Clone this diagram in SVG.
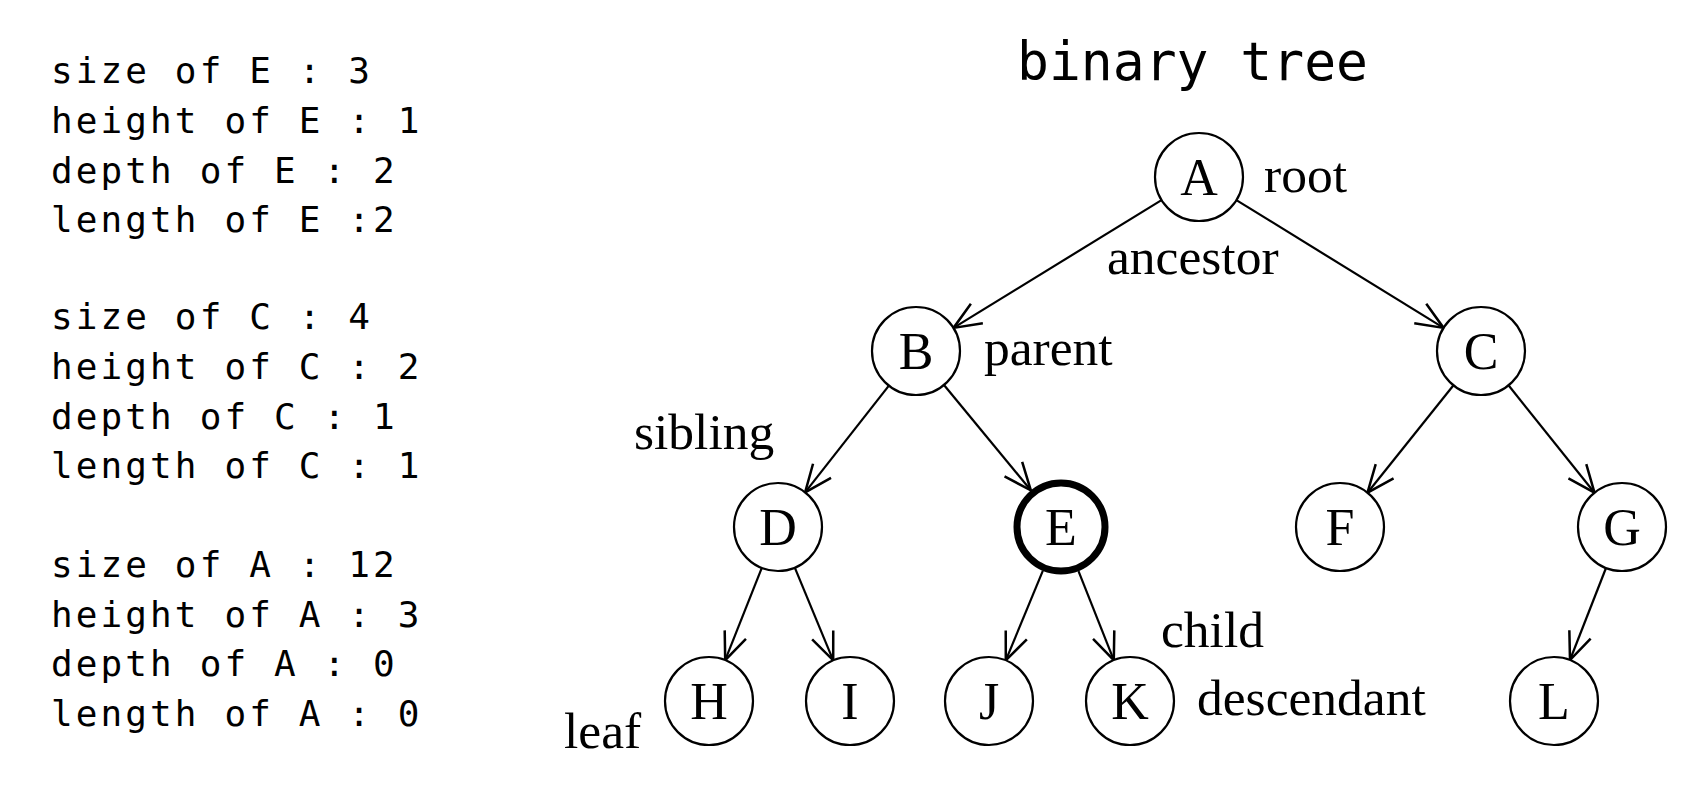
<svg xmlns="http://www.w3.org/2000/svg" width="1702" height="790" viewBox="0 0 1702 790">
<style>
.info{font-family:"DejaVu Sans Mono","Liberation Mono",monospace;font-size:36px;letter-spacing:3.1px;fill:#000}
.title{font-family:"DejaVu Sans Mono","Liberation Mono",monospace;font-size:53px;fill:#000}
.lbl{font-family:"Liberation Serif","Times New Roman",serif;font-size:51.5px;fill:#000}
.nl{font-family:"Liberation Serif","Times New Roman",serif;font-size:52px;fill:#000;text-anchor:middle}
.node{fill:#fff;stroke:#000;stroke-width:2.2}
.bold{stroke-width:7}
.edge{stroke:#000;stroke-width:2.2;fill:none;marker-end:url(#arr)}
</style>
<defs>
<marker id="arr" markerUnits="userSpaceOnUse" markerWidth="40" markerHeight="40" viewBox="-30 -15 35 30" refX="0" refY="0" orient="auto">
<path d="M -24 -10 L 0 0 L -24 10" fill="none" stroke="#000" stroke-width="2.2"/>
</marker>
</defs>
<rect width="1702" height="790" fill="#fff"/>
<g id="info">
<text class="info" x="51" y="83">size of E : 3</text>
<text class="info" x="51" y="133">height of E : 1</text>
<text class="info" x="51" y="183">depth of E : 2</text>
<text class="info" x="51" y="232">length of E :2</text>
<text class="info" x="51" y="329">size of C : 4</text>
<text class="info" x="51" y="379">height of C : 2</text>
<text class="info" x="51" y="429">depth of C : 1</text>
<text class="info" x="51" y="478">length of C : 1</text>
<text class="info" x="51" y="577">size of A : 12</text>
<text class="info" x="51" y="627">height of A : 3</text>
<text class="info" x="51" y="676">depth of A : 0</text>
<text class="info" x="51" y="726">length of A : 0</text>
</g>
<text id="title" class="title" x="1017" y="80">binary tree</text>
<g id="edges">
<line class="edge" x1="1161.5" y1="200.1" x2="953.5" y2="327.9"/>
<line class="edge" x1="1236.4" y1="200.1" x2="1443.6" y2="327.9"/>
<line class="edge" x1="888.9" y1="385.6" x2="805.1" y2="492.4"/>
<line class="edge" x1="944" y1="385" x2="1030.8" y2="490.3"/>
<line class="edge" x1="1453.5" y1="385.3" x2="1367.5" y2="492.7"/>
<line class="edge" x1="1508.5" y1="385.3" x2="1594.5" y2="492.7"/>
<line class="edge" x1="761.8" y1="567.9" x2="725.2" y2="660.1"/>
<line class="edge" x1="794.8" y1="567.7" x2="833.2" y2="660.3"/>
<line class="edge" x1="1042.8" y1="570.9" x2="1005.8" y2="660.3"/>
<line class="edge" x1="1078.5" y1="571.2" x2="1113.8" y2="660.1"/>
<line class="edge" x1="1606" y1="568" x2="1570" y2="660"/>
</g>
<g id="node-A"><circle class="node" cx="1199" cy="177" r="44"/><text class="nl" x="1199" y="195">A</text></g>
<g id="node-B"><circle class="node" cx="916" cy="351" r="44"/><text class="nl" x="916" y="369">B</text></g>
<g id="node-C"><circle class="node" cx="1481" cy="351" r="44"/><text class="nl" x="1481" y="369">C</text></g>
<g id="node-D"><circle class="node" cx="778" cy="527" r="44"/><text class="nl" x="778" y="545">D</text></g>
<g id="node-E"><circle class="node bold" cx="1061" cy="527" r="44"/><text class="nl" x="1061" y="545">E</text></g>
<g id="node-F"><circle class="node" cx="1340" cy="527" r="44"/><text class="nl" x="1340" y="545">F</text></g>
<g id="node-G"><circle class="node" cx="1622" cy="527" r="44"/><text class="nl" x="1622" y="545">G</text></g>
<g id="node-H"><circle class="node" cx="709" cy="701" r="44"/><text class="nl" x="709" y="719">H</text></g>
<g id="node-I"><circle class="node" cx="850" cy="701" r="44"/><text class="nl" x="850" y="719">I</text></g>
<g id="node-J"><circle class="node" cx="989" cy="701" r="44"/><text class="nl" x="989" y="719">J</text></g>
<g id="node-K"><circle class="node" cx="1130" cy="701" r="44"/><text class="nl" x="1130" y="719">K</text></g>
<g id="node-L"><circle class="node" cx="1554" cy="701" r="44"/><text class="nl" x="1554" y="719">L</text></g>
<g id="labels">
<text class="lbl" x="1264" y="192">root</text>
<text class="lbl" x="1107" y="274">ancestor</text>
<text class="lbl" x="984" y="365">parent</text>
<text class="lbl" x="634" y="449">sibling</text>
<text class="lbl" x="1161" y="647">child</text>
<text class="lbl" x="1197" y="715">descendant</text>
<text class="lbl" x="564" y="748">leaf</text>
</g>
</svg>
